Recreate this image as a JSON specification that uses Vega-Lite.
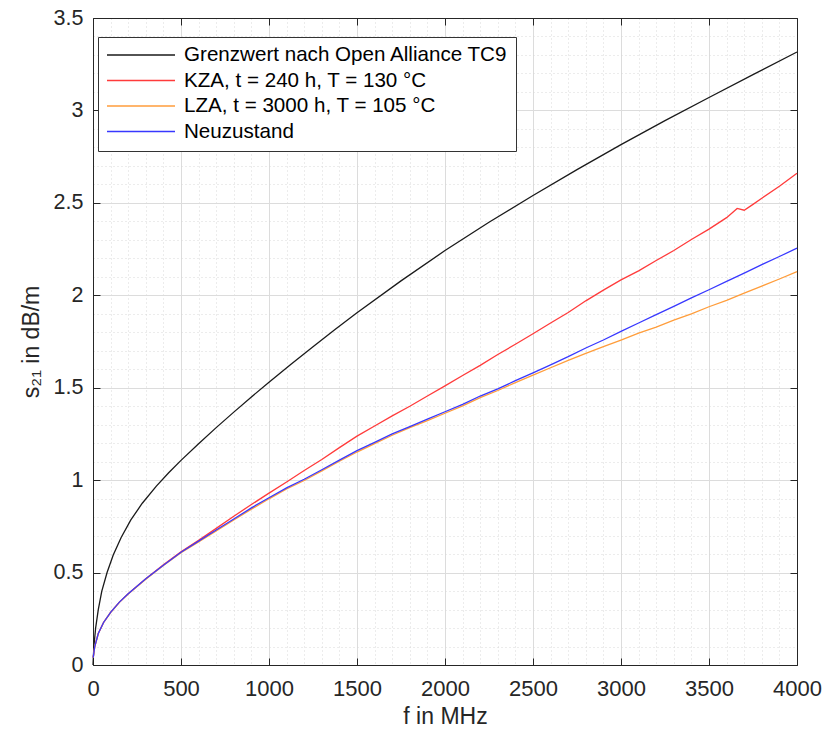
{
  "$schema": "https://vega.github.io/schema/vega-lite/v6.json",
  "width": 704,
  "height": 647,
  "autosize": {"type": "none"},
  "padding": {"left": 93, "top": 18, "right": 26, "bottom": 66},
  "background": "white",
  "config": {
    "view": {"stroke": null},
    "font": "Liberation Sans"
  },
  "datasets": {
    "curves": [
      {"f": 0, "s": 0, "c": "Grenzwert nach Open Alliance TC9"},
      {"f": 5, "s": 0.1, "c": "Grenzwert nach Open Alliance TC9"},
      {"f": 15, "s": 0.2, "c": "Grenzwert nach Open Alliance TC9"},
      {"f": 30, "s": 0.3, "c": "Grenzwert nach Open Alliance TC9"},
      {"f": 50, "s": 0.4, "c": "Grenzwert nach Open Alliance TC9"},
      {"f": 80, "s": 0.5, "c": "Grenzwert nach Open Alliance TC9"},
      {"f": 115, "s": 0.595, "c": "Grenzwert nach Open Alliance TC9"},
      {"f": 160, "s": 0.69, "c": "Grenzwert nach Open Alliance TC9"},
      {"f": 215, "s": 0.785, "c": "Grenzwert nach Open Alliance TC9"},
      {"f": 280, "s": 0.875, "c": "Grenzwert nach Open Alliance TC9"},
      {"f": 360, "s": 0.968, "c": "Grenzwert nach Open Alliance TC9"},
      {"f": 430, "s": 1.04, "c": "Grenzwert nach Open Alliance TC9"},
      {"f": 500, "s": 1.107, "c": "Grenzwert nach Open Alliance TC9"},
      {"f": 600, "s": 1.197, "c": "Grenzwert nach Open Alliance TC9"},
      {"f": 700, "s": 1.284, "c": "Grenzwert nach Open Alliance TC9"},
      {"f": 800, "s": 1.368, "c": "Grenzwert nach Open Alliance TC9"},
      {"f": 900, "s": 1.45, "c": "Grenzwert nach Open Alliance TC9"},
      {"f": 1000, "s": 1.53, "c": "Grenzwert nach Open Alliance TC9"},
      {"f": 1125, "s": 1.627, "c": "Grenzwert nach Open Alliance TC9"},
      {"f": 1250, "s": 1.722, "c": "Grenzwert nach Open Alliance TC9"},
      {"f": 1375, "s": 1.815, "c": "Grenzwert nach Open Alliance TC9"},
      {"f": 1500, "s": 1.905, "c": "Grenzwert nach Open Alliance TC9"},
      {"f": 1750, "s": 2.078, "c": "Grenzwert nach Open Alliance TC9"},
      {"f": 2000, "s": 2.242, "c": "Grenzwert nach Open Alliance TC9"},
      {"f": 2250, "s": 2.395, "c": "Grenzwert nach Open Alliance TC9"},
      {"f": 2500, "s": 2.54, "c": "Grenzwert nach Open Alliance TC9"},
      {"f": 2750, "s": 2.68, "c": "Grenzwert nach Open Alliance TC9"},
      {"f": 3000, "s": 2.815, "c": "Grenzwert nach Open Alliance TC9"},
      {"f": 3250, "s": 2.945, "c": "Grenzwert nach Open Alliance TC9"},
      {"f": 3500, "s": 3.07, "c": "Grenzwert nach Open Alliance TC9"},
      {"f": 3750, "s": 3.194, "c": "Grenzwert nach Open Alliance TC9"},
      {"f": 4000, "s": 3.316, "c": "Grenzwert nach Open Alliance TC9"},

      {"f": 1, "s": 0.04, "c": "KZA, t = 240 h, T = 130 °C"},
      {"f": 10, "s": 0.1, "c": "KZA, t = 240 h, T = 130 °C"},
      {"f": 30, "s": 0.17, "c": "KZA, t = 240 h, T = 130 °C"},
      {"f": 60, "s": 0.23, "c": "KZA, t = 240 h, T = 130 °C"},
      {"f": 100, "s": 0.285, "c": "KZA, t = 240 h, T = 130 °C"},
      {"f": 150, "s": 0.34, "c": "KZA, t = 240 h, T = 130 °C"},
      {"f": 200, "s": 0.385, "c": "KZA, t = 240 h, T = 130 °C"},
      {"f": 300, "s": 0.467, "c": "KZA, t = 240 h, T = 130 °C"},
      {"f": 400, "s": 0.542, "c": "KZA, t = 240 h, T = 130 °C"},
      {"f": 500, "s": 0.612, "c": "KZA, t = 240 h, T = 130 °C"},
      {"f": 600, "s": 0.675, "c": "KZA, t = 240 h, T = 130 °C"},
      {"f": 700, "s": 0.739, "c": "KZA, t = 240 h, T = 130 °C"},
      {"f": 800, "s": 0.805, "c": "KZA, t = 240 h, T = 130 °C"},
      {"f": 900, "s": 0.868, "c": "KZA, t = 240 h, T = 130 °C"},
      {"f": 1000, "s": 0.93, "c": "KZA, t = 240 h, T = 130 °C"},
      {"f": 1100, "s": 0.99, "c": "KZA, t = 240 h, T = 130 °C"},
      {"f": 1200, "s": 1.052, "c": "KZA, t = 240 h, T = 130 °C"},
      {"f": 1300, "s": 1.112, "c": "KZA, t = 240 h, T = 130 °C"},
      {"f": 1400, "s": 1.176, "c": "KZA, t = 240 h, T = 130 °C"},
      {"f": 1500, "s": 1.238, "c": "KZA, t = 240 h, T = 130 °C"},
      {"f": 1600, "s": 1.293, "c": "KZA, t = 240 h, T = 130 °C"},
      {"f": 1700, "s": 1.348, "c": "KZA, t = 240 h, T = 130 °C"},
      {"f": 1800, "s": 1.4, "c": "KZA, t = 240 h, T = 130 °C"},
      {"f": 1900, "s": 1.455, "c": "KZA, t = 240 h, T = 130 °C"},
      {"f": 2000, "s": 1.51, "c": "KZA, t = 240 h, T = 130 °C"},
      {"f": 2100, "s": 1.566, "c": "KZA, t = 240 h, T = 130 °C"},
      {"f": 2200, "s": 1.621, "c": "KZA, t = 240 h, T = 130 °C"},
      {"f": 2300, "s": 1.68, "c": "KZA, t = 240 h, T = 130 °C"},
      {"f": 2400, "s": 1.735, "c": "KZA, t = 240 h, T = 130 °C"},
      {"f": 2500, "s": 1.792, "c": "KZA, t = 240 h, T = 130 °C"},
      {"f": 2600, "s": 1.85, "c": "KZA, t = 240 h, T = 130 °C"},
      {"f": 2700, "s": 1.907, "c": "KZA, t = 240 h, T = 130 °C"},
      {"f": 2800, "s": 1.97, "c": "KZA, t = 240 h, T = 130 °C"},
      {"f": 2900, "s": 2.028, "c": "KZA, t = 240 h, T = 130 °C"},
      {"f": 3000, "s": 2.083, "c": "KZA, t = 240 h, T = 130 °C"},
      {"f": 3100, "s": 2.132, "c": "KZA, t = 240 h, T = 130 °C"},
      {"f": 3200, "s": 2.188, "c": "KZA, t = 240 h, T = 130 °C"},
      {"f": 3300, "s": 2.242, "c": "KZA, t = 240 h, T = 130 °C"},
      {"f": 3400, "s": 2.302, "c": "KZA, t = 240 h, T = 130 °C"},
      {"f": 3500, "s": 2.358, "c": "KZA, t = 240 h, T = 130 °C"},
      {"f": 3600, "s": 2.42, "c": "KZA, t = 240 h, T = 130 °C"},
      {"f": 3660, "s": 2.47, "c": "KZA, t = 240 h, T = 130 °C"},
      {"f": 3700, "s": 2.46, "c": "KZA, t = 240 h, T = 130 °C"},
      {"f": 3750, "s": 2.492, "c": "KZA, t = 240 h, T = 130 °C"},
      {"f": 3800, "s": 2.525, "c": "KZA, t = 240 h, T = 130 °C"},
      {"f": 3900, "s": 2.59, "c": "KZA, t = 240 h, T = 130 °C"},
      {"f": 4000, "s": 2.66, "c": "KZA, t = 240 h, T = 130 °C"},

      {"f": 1, "s": 0.04, "c": "LZA, t = 3000 h, T = 105 °C"},
      {"f": 10, "s": 0.1, "c": "LZA, t = 3000 h, T = 105 °C"},
      {"f": 30, "s": 0.17, "c": "LZA, t = 3000 h, T = 105 °C"},
      {"f": 60, "s": 0.23, "c": "LZA, t = 3000 h, T = 105 °C"},
      {"f": 100, "s": 0.284, "c": "LZA, t = 3000 h, T = 105 °C"},
      {"f": 150, "s": 0.339, "c": "LZA, t = 3000 h, T = 105 °C"},
      {"f": 200, "s": 0.384, "c": "LZA, t = 3000 h, T = 105 °C"},
      {"f": 300, "s": 0.464, "c": "LZA, t = 3000 h, T = 105 °C"},
      {"f": 400, "s": 0.538, "c": "LZA, t = 3000 h, T = 105 °C"},
      {"f": 500, "s": 0.607, "c": "LZA, t = 3000 h, T = 105 °C"},
      {"f": 600, "s": 0.666, "c": "LZA, t = 3000 h, T = 105 °C"},
      {"f": 700, "s": 0.725, "c": "LZA, t = 3000 h, T = 105 °C"},
      {"f": 800, "s": 0.784, "c": "LZA, t = 3000 h, T = 105 °C"},
      {"f": 900, "s": 0.843, "c": "LZA, t = 3000 h, T = 105 °C"},
      {"f": 1000, "s": 0.899, "c": "LZA, t = 3000 h, T = 105 °C"},
      {"f": 1100, "s": 0.952, "c": "LZA, t = 3000 h, T = 105 °C"},
      {"f": 1200, "s": 0.998, "c": "LZA, t = 3000 h, T = 105 °C"},
      {"f": 1300, "s": 1.05, "c": "LZA, t = 3000 h, T = 105 °C"},
      {"f": 1400, "s": 1.102, "c": "LZA, t = 3000 h, T = 105 °C"},
      {"f": 1500, "s": 1.152, "c": "LZA, t = 3000 h, T = 105 °C"},
      {"f": 1600, "s": 1.198, "c": "LZA, t = 3000 h, T = 105 °C"},
      {"f": 1700, "s": 1.243, "c": "LZA, t = 3000 h, T = 105 °C"},
      {"f": 1800, "s": 1.284, "c": "LZA, t = 3000 h, T = 105 °C"},
      {"f": 1900, "s": 1.322, "c": "LZA, t = 3000 h, T = 105 °C"},
      {"f": 2000, "s": 1.362, "c": "LZA, t = 3000 h, T = 105 °C"},
      {"f": 2100, "s": 1.402, "c": "LZA, t = 3000 h, T = 105 °C"},
      {"f": 2200, "s": 1.446, "c": "LZA, t = 3000 h, T = 105 °C"},
      {"f": 2300, "s": 1.485, "c": "LZA, t = 3000 h, T = 105 °C"},
      {"f": 2400, "s": 1.528, "c": "LZA, t = 3000 h, T = 105 °C"},
      {"f": 2500, "s": 1.568, "c": "LZA, t = 3000 h, T = 105 °C"},
      {"f": 2600, "s": 1.608, "c": "LZA, t = 3000 h, T = 105 °C"},
      {"f": 2700, "s": 1.648, "c": "LZA, t = 3000 h, T = 105 °C"},
      {"f": 2800, "s": 1.686, "c": "LZA, t = 3000 h, T = 105 °C"},
      {"f": 2900, "s": 1.722, "c": "LZA, t = 3000 h, T = 105 °C"},
      {"f": 3000, "s": 1.758, "c": "LZA, t = 3000 h, T = 105 °C"},
      {"f": 3100, "s": 1.795, "c": "LZA, t = 3000 h, T = 105 °C"},
      {"f": 3200, "s": 1.828, "c": "LZA, t = 3000 h, T = 105 °C"},
      {"f": 3300, "s": 1.866, "c": "LZA, t = 3000 h, T = 105 °C"},
      {"f": 3400, "s": 1.9, "c": "LZA, t = 3000 h, T = 105 °C"},
      {"f": 3500, "s": 1.938, "c": "LZA, t = 3000 h, T = 105 °C"},
      {"f": 3600, "s": 1.972, "c": "LZA, t = 3000 h, T = 105 °C"},
      {"f": 3700, "s": 2.012, "c": "LZA, t = 3000 h, T = 105 °C"},
      {"f": 3800, "s": 2.05, "c": "LZA, t = 3000 h, T = 105 °C"},
      {"f": 3900, "s": 2.088, "c": "LZA, t = 3000 h, T = 105 °C"},
      {"f": 4000, "s": 2.128, "c": "LZA, t = 3000 h, T = 105 °C"},

      {"f": 1, "s": 0.04, "c": "Neuzustand"},
      {"f": 10, "s": 0.1, "c": "Neuzustand"},
      {"f": 30, "s": 0.17, "c": "Neuzustand"},
      {"f": 60, "s": 0.23, "c": "Neuzustand"},
      {"f": 100, "s": 0.285, "c": "Neuzustand"},
      {"f": 150, "s": 0.34, "c": "Neuzustand"},
      {"f": 200, "s": 0.385, "c": "Neuzustand"},
      {"f": 300, "s": 0.466, "c": "Neuzustand"},
      {"f": 400, "s": 0.54, "c": "Neuzustand"},
      {"f": 500, "s": 0.61, "c": "Neuzustand"},
      {"f": 600, "s": 0.67, "c": "Neuzustand"},
      {"f": 700, "s": 0.73, "c": "Neuzustand"},
      {"f": 800, "s": 0.79, "c": "Neuzustand"},
      {"f": 900, "s": 0.85, "c": "Neuzustand"},
      {"f": 1000, "s": 0.905, "c": "Neuzustand"},
      {"f": 1100, "s": 0.958, "c": "Neuzustand"},
      {"f": 1200, "s": 1.005, "c": "Neuzustand"},
      {"f": 1300, "s": 1.056, "c": "Neuzustand"},
      {"f": 1400, "s": 1.108, "c": "Neuzustand"},
      {"f": 1500, "s": 1.16, "c": "Neuzustand"},
      {"f": 1600, "s": 1.204, "c": "Neuzustand"},
      {"f": 1700, "s": 1.25, "c": "Neuzustand"},
      {"f": 1800, "s": 1.29, "c": "Neuzustand"},
      {"f": 1900, "s": 1.33, "c": "Neuzustand"},
      {"f": 2000, "s": 1.37, "c": "Neuzustand"},
      {"f": 2100, "s": 1.41, "c": "Neuzustand"},
      {"f": 2200, "s": 1.455, "c": "Neuzustand"},
      {"f": 2300, "s": 1.494, "c": "Neuzustand"},
      {"f": 2400, "s": 1.538, "c": "Neuzustand"},
      {"f": 2500, "s": 1.58, "c": "Neuzustand"},
      {"f": 2600, "s": 1.624, "c": "Neuzustand"},
      {"f": 2700, "s": 1.668, "c": "Neuzustand"},
      {"f": 2800, "s": 1.715, "c": "Neuzustand"},
      {"f": 2900, "s": 1.758, "c": "Neuzustand"},
      {"f": 3000, "s": 1.805, "c": "Neuzustand"},
      {"f": 3100, "s": 1.85, "c": "Neuzustand"},
      {"f": 3200, "s": 1.895, "c": "Neuzustand"},
      {"f": 3300, "s": 1.94, "c": "Neuzustand"},
      {"f": 3400, "s": 1.986, "c": "Neuzustand"},
      {"f": 3500, "s": 2.03, "c": "Neuzustand"},
      {"f": 3600, "s": 2.075, "c": "Neuzustand"},
      {"f": 3700, "s": 2.12, "c": "Neuzustand"},
      {"f": 3800, "s": 2.166, "c": "Neuzustand"},
      {"f": 3900, "s": 2.21, "c": "Neuzustand"},
      {"f": 4000, "s": 2.255, "c": "Neuzustand"}
    ]
  },
  "data": {"name": "curves"},
  "layer": [
    {
      "mark": {"type": "line", "opacity": 0},
      "encoding": {
        "x": {"field": "f", "type": "quantitative", "scale": {"domain": [0, 4000], "nice": false},
          "axis": {"orient": "bottom", "values": [100,200,300,400,600,700,800,900,1100,1200,1300,1400,1600,1700,1800,1900,2100,2200,2300,2400,2600,2700,2800,2900,3100,3200,3300,3400,3600,3700,3800,3900],
            "grid": true, "gridColor": "#d9d9d9", "gridDash": [1, 3], "gridWidth": 1, "domain": false, "ticks": false, "labels": false, "title": null}},
        "y": {"field": "s", "type": "quantitative", "scale": {"domain": [0, 3.5], "nice": false},
          "axis": {"orient": "left", "values": [0.1,0.2,0.3,0.4,0.6,0.7,0.8,0.9,1.1,1.2,1.3,1.4,1.6,1.7,1.8,1.9,2.1,2.2,2.3,2.4,2.6,2.7,2.8,2.9,3.1,3.2,3.3,3.4],
            "grid": true, "gridColor": "#d9d9d9", "gridDash": [1, 3], "gridWidth": 1, "domain": false, "ticks": false, "labels": false, "title": null}}
      }
    },
    {
      "mark": {"type": "line", "opacity": 0},
      "encoding": {
        "x": {"field": "f", "type": "quantitative",
          "axis": {"orient": "top", "values": [0,500,1000,1500,2000,2500,3000,3500,4000], "grid": false, "labels": false, "title": null,
            "domainColor": "#262626", "tickColor": "#262626", "tickSize": -7}},
        "y": {"field": "s", "type": "quantitative",
          "axis": {"orient": "right", "values": [0,0.5,1,1.5,2,2.5,3,3.5], "grid": false, "labels": false, "title": null,
            "domainColor": "#262626", "tickColor": "#262626", "tickSize": -7}}
      }
    },
    {
      "mark": {"type": "line", "strokeWidth": 1.3},
      "encoding": {
        "x": {"field": "f", "type": "quantitative",
          "axis": {"orient": "bottom", "values": [0,500,1000,1500,2000,2500,3000,3500,4000], "format": "d",
            "grid": true, "gridColor": "#dcdcdc", "gridWidth": 1,
            "domainColor": "#262626", "tickColor": "#262626", "tickSize": -7,
            "labelFontSize": 22, "labelColor": "#262626", "labelPadding": 20, "labelFlush": false,
            "title": "f in MHz", "titleFontSize": 23, "titleFontWeight": "normal", "titleColor": "#262626", "titlePadding": 6}},
        "y": {"field": "s", "type": "quantitative",
          "axis": {"orient": "left", "values": [0,0.5,1,1.5,2,2.5,3,3.5], "format": "~g",
            "grid": true, "gridColor": "#dcdcdc", "gridWidth": 1,
            "domainColor": "#262626", "tickColor": "#262626", "tickSize": -7,
            "labelFontSize": 21.5, "labelColor": "#262626", "labelPadding": 17, "labelFlush": false,
            "title": "s₂₁ in dB/m", "titleFontSize": 23, "titleFontWeight": "normal", "titleColor": "#262626", "titlePadding": 10}},
        "color": {"field": "c", "type": "nominal",
          "scale": {"domain": ["Grenzwert nach Open Alliance TC9", "KZA, t = 240 h, T = 130 °C", "LZA, t = 3000 h, T = 105 °C", "Neuzustand"],
            "range": ["#1a1a1a", "#ff3b3b", "#ff9d3b", "#3838ff"]},
          "legend": {"orient": "none", "legendX": 5, "legendY": 19, "title": null,
            "symbolType": "stroke", "symbolSize": 4624, "symbolStrokeWidth": 1.5,
            "labelFontSize": 20.6, "labelColor": "#000000", "labelOffset": 8, "labelLimit": 600,
            "rowPadding": 4.5, "padding": 8, "clipHeight": 20,
            "strokeColor": "#333333", "fillColor": "white"}}
      }
    }
  ],
  "resolve": {"axis": {"x": "independent", "y": "independent"}}
}
